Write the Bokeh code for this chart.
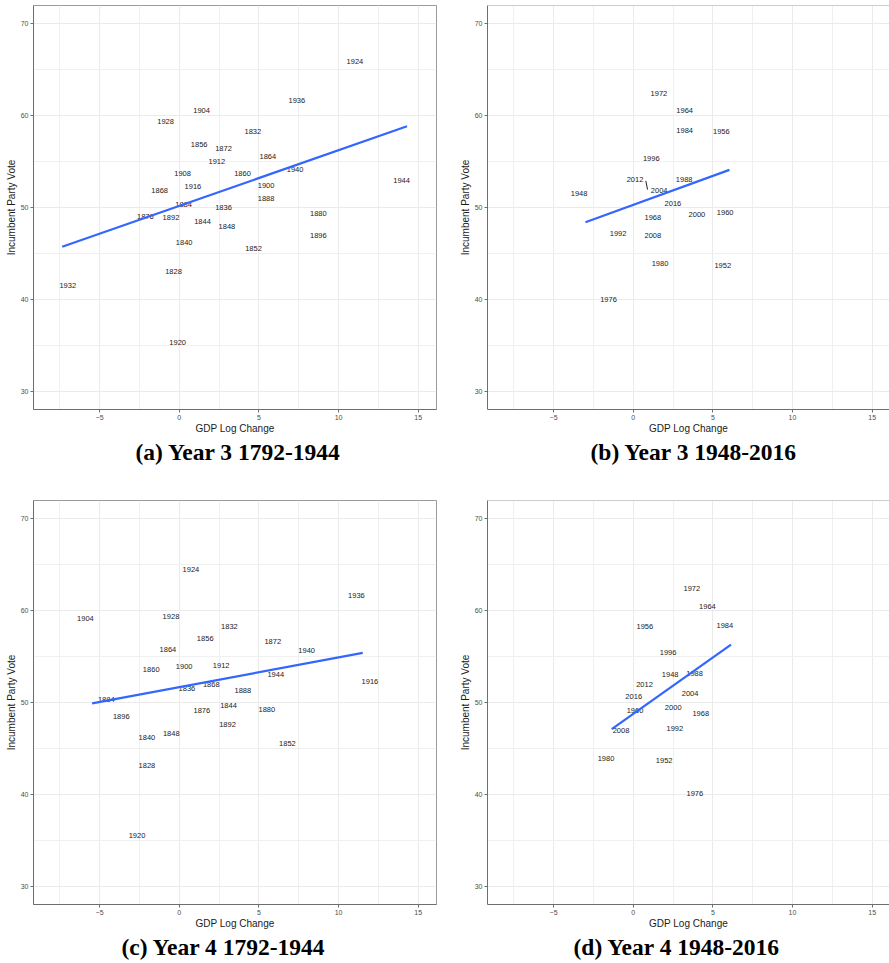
from bokeh.plotting import figure
from bokeh.layouts import column, row
from bokeh.models import ColumnDataSource, Range1d, FixedTicker, Title, Span
from bokeh.core.properties import value
from bokeh.embed import file_html
from bokeh.resources import INLINE

# ---------------- data (label positions) ----------------
# (a) Year 3, 1792-1944
a_years = ["1924", "1936", "1904", "1928", "1832", "1856", "1872", "1864", "1912", "1940",
           "1908", "1860", "1944", "1900", "1916", "1868", "1888", "1884", "1836", "1876",
           "1892", "1880", "1844", "1848", "1896", "1840", "1852", "1828", "1932", "1920"]
a_gdp = [11.03, 7.38, 1.40, -0.86, 4.62, 1.25, 2.78, 5.56, 2.36, 7.27,
         0.21, 3.97, 13.96, 5.45, 0.86, -1.23, 5.45, 0.27, 2.78, -2.13,
         -0.52, 8.73, 1.46, 2.99, 8.73, 0.31, 4.66, -0.36, -7.0, -0.10]
a_vote = [65.9, 61.6, 60.6, 59.4, 58.3, 56.9, 56.4, 55.6, 55.0, 54.1,
          53.65, 53.65, 52.9, 52.4, 52.3, 51.9, 50.96, 50.3, 50.05, 49.0,
          48.9, 49.3, 48.45, 47.9, 47.0, 46.2, 45.5, 43.0, 41.5, 35.3]
a_fit_x = [-7.35, 14.3]
a_fit_y = [45.73, 58.84]

# (b) Year 3, 1948-2016
b_years = ["1972", "1964", "1984", "1956", "1996", "2012", "1988", "1948", "2004", "2016",
           "1960", "2000", "1968", "1992", "2008", "1980", "1952", "1976"]
b_gdp = [1.61, 3.23, 3.23, 5.53, 1.13, 0.11, 3.20, -3.40, 1.63, 2.49,
         5.77, 4.00, 1.23, -0.95, 1.23, 1.68, 5.62, -1.55]
b_vote = [62.4, 60.6, 58.4, 58.3, 55.3, 53.0, 53.1, 51.5, 51.8, 50.4,
          49.5, 49.2, 48.9, 47.2, 47.0, 43.9, 43.7, 40.0]
b_fit_x = [-3.0, 6.04]
b_fit_y = [48.4, 54.1]
b_seg_x0, b_seg_y0, b_seg_x1, b_seg_y1 = [0.79], [52.9], [0.90], [51.95]

# (c) Year 4, 1792-1944
c_years = ["1924", "1936", "1904", "1928", "1832", "1856", "1872", "1864", "1940", "1860",
           "1900", "1912", "1944", "1916", "1868", "1836", "1888", "1884", "1896", "1876",
           "1844", "1880", "1892", "1840", "1848", "1852", "1828", "1920"]
c_gdp = [0.73, 11.12, -5.89, -0.52, 3.15, 1.63, 5.87, -0.71, 8.0, -1.76,
         0.31, 2.63, 6.06, 11.97, 2.01, 0.48, 3.99, -4.58, -3.64, 1.42,
         3.09, 5.5, 3.03, -2.03, -0.5, 6.79, -2.03, -2.65]
c_vote = [64.5, 61.7, 59.2, 59.4, 58.3, 57.0, 56.6, 55.8, 55.65, 53.6,
          53.9, 54.0, 53.0, 52.3, 52.0, 51.5, 51.3, 50.3, 48.45, 49.1,
          49.7, 49.2, 47.55, 46.2, 46.6, 45.5, 43.1, 35.5]
c_fit_x = [-5.47, 11.52]
c_fit_y = [49.9, 55.4]

# (d) Year 4, 1948-2016
d_years = ["1972", "1964", "1956", "1984", "1996", "1948", "1988", "2012", "2004", "2016",
           "1960", "2000", "1968", "2008", "1992", "1980", "1952", "1976"]
d_gdp = [3.68, 4.66, 0.73, 5.75, 2.19, 2.32, 3.85, 0.71, 3.57, 0.03,
         0.11, 2.51, 4.24, -0.77, 2.61, -1.71, 1.94, 3.87]
d_vote = [62.4, 60.5, 58.3, 58.4, 55.4, 53.1, 53.2, 52.0, 51.0, 50.65,
          49.1, 49.5, 48.85, 47.0, 47.2, 43.95, 43.7, 40.1]
d_fit_x = [-1.35, 6.14]
d_fit_y = [47.1, 56.3]

x_ticks = [-5, 0, 5, 10, 15]
x_minor = [-7.5, -2.5, 2.5, 7.5, 12.5]
y_ticks = [30, 40, 50, 60, 70]
y_minor = [35, 45, 55, 65]
captions = ["(a) Year 3 1792-1944", "(b) Year 3 1948-2016",
            "(c) Year 4 1792-1944", "(d) Year 4 1948-2016"]
x_label = "GDP Log Change"
y_label = "Incumbent Party Vote"

SANS = "Liberation Sans"
SERIF = "Liberation Serif"


def make_panel(years, gdp, vote, fx, fy, caption, width, height, mb_left, mb_top,
               mb_bottom, x_end, left_side, cap_offset, seg=None):
    p = figure(width=width, height=height, output_backend="svg", toolbar_location=None,
               x_range=Range1d(-9.15, x_end), y_range=Range1d(28, 72),
               min_border_left=mb_left, min_border_right=4 if left_side else 0,
               min_border_top=mb_top, min_border_bottom=mb_bottom)
    p.background_fill_color = "white"
    p.border_fill_color = "white"
    if left_side:
        p.outline_line_color = "#9a9a9a"
    else:
        p.outline_line_color = None
        p.add_layout(Span(location=72, dimension="width", line_color="#9a9a9a", line_width=1))

    p.xaxis.ticker = FixedTicker(ticks=x_ticks, minor_ticks=x_minor)
    p.yaxis.ticker = FixedTicker(ticks=y_ticks, minor_ticks=y_minor)
    for ax in (p.xaxis[0], p.yaxis[0]):
        ax.axis_line_color = "#6e6e6e"
        ax.major_tick_line_color = "#6e6e6e"
        ax.major_tick_out = 3
        ax.major_tick_in = 0
        ax.minor_tick_line_color = None
        ax.major_label_text_font = SANS
        ax.major_label_text_font_size = "7px"
        ax.major_label_text_color = "#4d4d4d"
        ax.axis_label_text_font = SANS
        ax.axis_label_text_font_size = "10px"
        ax.axis_label_text_font_style = "normal"
        ax.axis_label_text_color = "#1a1a1a"
        ax.major_label_standoff = 1
        ax.axis_label_standoff = 0
    p.yaxis.axis_label_standoff = 1
    p.xaxis.axis_label = x_label
    p.yaxis.axis_label = y_label

    for g in (p.xgrid[0], p.ygrid[0]):
        g.grid_line_color = "#ebebeb"
        g.grid_line_width = 1
        g.minor_grid_line_color = "#f0f0f0"
        g.minor_grid_line_width = 1

    src = ColumnDataSource(dict(x=gdp, y=vote, t=years))
    p.text(x="x", y="y", text="t", source=src, text_font=value(SANS),
           text_font_size="7.5px", text_color="#1a1a1a",
           text_align="center", text_baseline="middle")
    if seg is not None:
        p.segment(x0=seg[0], y0=seg[1], x1=seg[2], y1=seg[3], line_color="#222222",
                  line_width=1)
    p.line(x=fx, y=fy, line_color="#3366FF", line_width=2.2)

    p.add_layout(Title(text=caption, align="left", offset=cap_offset,
                       text_font=SERIF, text_font_style="bold",
                       text_font_size="23.5px", text_color="black", standoff=0),
                 "below")
    return p


pa = make_panel(a_years, a_gdp, a_vote, a_fit_x, a_fit_y, captions[0],
                440, 490, 33, 5, 81, 16.15, True, 102)
pb = make_panel(b_years, b_gdp, b_vote, b_fit_x, b_fit_y, captions[1],
                449, 490, 47, 5, 81, 16.09, False, 103,
                seg=(b_seg_x0, b_seg_y0, b_seg_x1, b_seg_y1))
pc = make_panel(c_years, c_gdp, c_vote, c_fit_x, c_fit_y, captions[2],
                440, 473, 33, 10, 59, 16.15, True, 88)
pd = make_panel(d_years, d_gdp, d_vote, d_fit_x, d_fit_y, captions[3],
                449, 473, 47, 10, 59, 16.09, False, 86)

layout = column(row(pa, pb), row(pc, pd))
open("out.html", "w").write(file_html(layout, INLINE))
